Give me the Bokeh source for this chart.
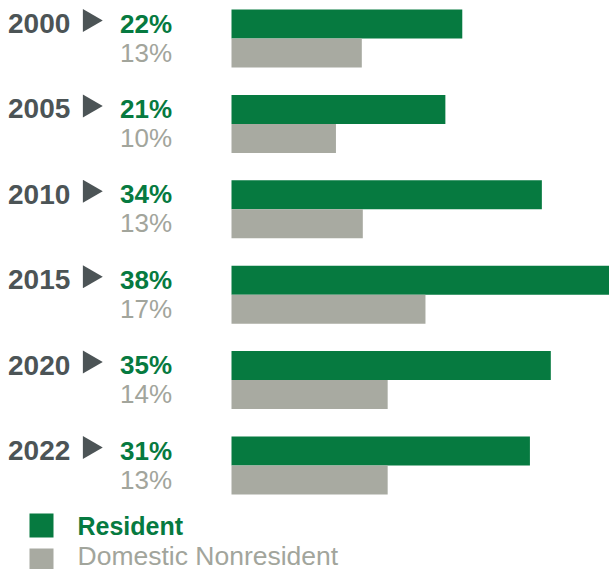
import math
from bokeh.plotting import figure
from bokeh.models import Range1d, ColumnDataSource
from bokeh.core.properties import value
from bokeh.embed import file_html
from bokeh.resources import INLINE

# ---- data ----
years = ["2000", "2005", "2010", "2015", "2020", "2022"]
resident_pct = [22, 21, 34, 38, 35, 31]
nonres_pct = [13, 10, 13, 17, 14, 13]
# bar lengths as drawn in the picture
resident_bar = [23.2, 21.5, 31.2, 38.0, 32.1, 30.0]
nonres_bar = [13.1, 10.5, 13.2, 19.5, 15.7, 15.7]
series_names = ["Resident", "Domestic Nonresident"]

# ---- styling / layout ----
GREEN = "#067a40"
GRAY_BAR = "#a8aaa1"
GRAY_TXT = "#a2a59c"
DARK = "#4c5456"
FONT = value("Liberation Sans")

W, H = 609, 569
BASE_CORR = -9.0                   # renderer baseline correction (px)

BAR_X0_PX = 231.0
X_END = 38.0
KX = (W - BAR_X0_PX) / X_END
X_START = -BAR_X0_PX / KX
ROW0_PX = 38.0
KY = 85.4
Y_TOP = -ROW0_PX / KY
Y_BOTTOM = (H - ROW0_PX) / KY
BAR_H = 29.0 / KY


def to_x(px):
    return X_START + px / KX


def to_y(px):
    return (px - ROW0_PX) / KY


rows = list(range(len(years)))
src = ColumnDataSource(dict(
    row=rows,
    year=years,
    res_txt=[f"{v}%" for v in resident_pct],
    non_txt=[f"{v}%" for v in nonres_pct],
    res_bar=resident_bar,
    non_bar=nonres_bar,
    res_y=[r - BAR_H / 2 for r in rows],
    non_y=[r + BAR_H / 2 for r in rows],
    zero=[0] * len(rows),
    tri_y=[r - 18.0 / KY for r in rows],
    tri_x=[to_x(89.0)] * len(rows),
))

p = figure(width=W, height=H, output_backend="svg", toolbar_location=None,
           x_range=Range1d(X_START, X_END), y_range=Range1d(Y_BOTTOM, Y_TOP),
           x_axis_type=None, y_axis_type=None, min_border=0,
           background_fill_color="white", border_fill_color="white")
p.outline_line_color = None
p.grid.visible = False

p.hbar(y="res_y", left="zero", right="res_bar", height=BAR_H, source=src,
       fill_color=GREEN, line_color=None)
p.hbar(y="non_y", left="zero", right="non_bar", height=BAR_H, source=src,
       fill_color=GRAY_BAR, line_color=None)

p.text(x="zero", y="row", text="year", source=src,
       x_offset=(9 - 231) - 1.5, y_offset=-6 + BASE_CORR,
       text_font=FONT, text_font_size="28px", text_font_style="bold",
       text_color=DARK, text_baseline="alphabetic", text_align="left")
p.scatter(x="tri_x", y="tri_y", source=src, marker="triangle", size=23,
          angle=-math.pi / 2, fill_color=DARK, line_color=None)
p.text(x="zero", y="row", text="res_txt", source=src,
       x_offset=(121 - 231) - 1.5, y_offset=-6 + BASE_CORR,
       text_font=FONT, text_font_size="26px", text_font_style="bold",
       text_color=GREEN, text_baseline="alphabetic", text_align="left")
p.text(x="zero", y="row", text="non_txt", source=src,
       x_offset=(121 - 231) - 1.5, y_offset=23 + BASE_CORR,
       text_font=FONT, text_font_size="26px", text_color=GRAY_TXT,
       text_baseline="alphabetic", text_align="left")

# legend (drawn manually so each label keeps its own colour)
p.scatter(x=[to_x(41), to_x(41)], y=[to_y(525), to_y(560)], marker="square",
          size=24, fill_color=[GREEN, GRAY_BAR], line_color=None)
p.text(x=[to_x(79)], y=[to_y(534)], text=series_names[:1],
       x_offset=-2, y_offset=BASE_CORR,
       text_font=FONT, text_font_size="25px", text_font_style="bold",
       text_color=GREEN, text_baseline="alphabetic", text_align="left")
p.text(x=[to_x(79)], y=[to_y(564)], text=series_names[1:],
       x_offset=-2, y_offset=BASE_CORR,
       text_font=FONT, text_font_size="26.5px",
       text_color=GRAY_TXT, text_baseline="alphabetic", text_align="left")

open("out.html", "w").write(file_html(p, INLINE))
